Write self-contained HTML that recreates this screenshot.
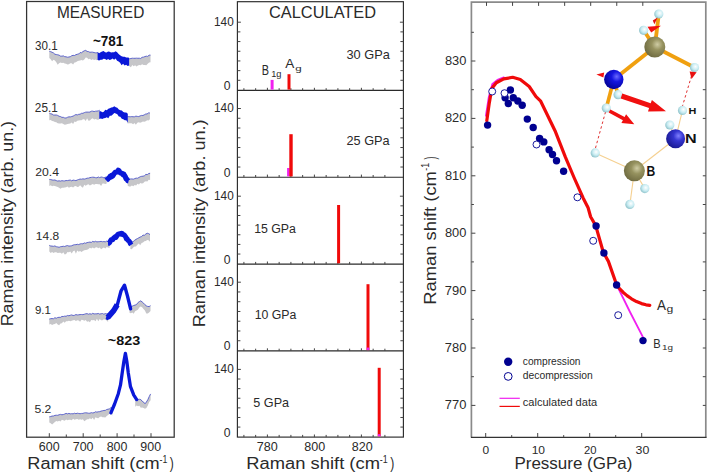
<!DOCTYPE html>
<html><head><meta charset="utf-8"><style>
html,body{margin:0;padding:0;background:#fff;width:708px;height:474px;overflow:hidden}
svg{display:block}
text{font-family:"Liberation Sans", sans-serif}
</style></head><body>
<svg width="708" height="474" viewBox="0 0 708 474">
<rect width="708" height="474" fill="#fff"/>
<rect x="26.6" y="1.5" width="147.6" height="435.7" fill="none" stroke="#333" stroke-width="1.25"/>
<line x1="49.30" y1="437.20" x2="49.30" y2="433.20" stroke="#444" stroke-width="1.0"/>
<line x1="83.20" y1="437.20" x2="83.20" y2="433.20" stroke="#444" stroke-width="1.0"/>
<line x1="117.10" y1="437.20" x2="117.10" y2="433.20" stroke="#444" stroke-width="1.0"/>
<line x1="151.00" y1="437.20" x2="151.00" y2="433.20" stroke="#444" stroke-width="1.0"/>
<line x1="66.30" y1="437.20" x2="66.30" y2="434.50" stroke="#444" stroke-width="1.0"/>
<line x1="100.20" y1="437.20" x2="100.20" y2="434.50" stroke="#444" stroke-width="1.0"/>
<line x1="134.00" y1="437.20" x2="134.00" y2="434.50" stroke="#444" stroke-width="1.0"/>
<text x="38.83" y="450.99" font-size="12.13" fill="#2a2a2a" textLength="20.8" lengthAdjust="spacingAndGlyphs">600</text>
<text x="72.73" y="450.99" font-size="12.13" fill="#2a2a2a" textLength="20.8" lengthAdjust="spacingAndGlyphs">700</text>
<text x="106.72" y="450.99" font-size="12.13" fill="#2a2a2a" textLength="20.71" lengthAdjust="spacingAndGlyphs">800</text>
<text x="140.36" y="450.99" font-size="12.13" fill="#2a2a2a" textLength="20.77" lengthAdjust="spacingAndGlyphs">900</text>
<text x="27.35" y="469.19" font-size="15.77" fill="#2a2a2a" textLength="132.27" lengthAdjust="spacingAndGlyphs">Raman shift (cm</text>
<text x="159.5" y="463.24" font-size="10.82" fill="#2a2a2a" textLength="7.83" lengthAdjust="spacingAndGlyphs">-1</text>
<text x="169.76" y="469.19" font-size="15.77" fill="#2a2a2a" textLength="4.02" lengthAdjust="spacingAndGlyphs">)</text>
<g transform="translate(12.9,325.2) rotate(-90)">
<text x="-1.12" y="-0.21" font-size="16.79" fill="#2a2a2a" textLength="205.35" lengthAdjust="spacingAndGlyphs">Raman intensity (arb. un.)</text>
</g>
<text x="56.88" y="18.29" font-size="16.64" fill="#2a2a2a" textLength="87.41" lengthAdjust="spacingAndGlyphs">MEASURED</text>
<text x="35.01" y="49.59" font-size="13.1" fill="#2a2a2a" textLength="22.6" lengthAdjust="spacingAndGlyphs">30.1</text>
<polygon points="49.3,51.24 50.7,51.65 52.1,52.28 53.5,52.93 54.9,54.25 56.3,54.54 57.7,54.79 59.1,55.15 60.5,56.08 61.9,56.16 63.3,55.87 64.7,56.66 66.1,56.81 67.5,57.23 68.9,56.99 70.3,56.71 71.7,55.74 73.1,55.35 74.5,55.49 75.9,54.66 77.3,54.29 78.7,53.99 80.1,52.56 81.5,52.78 82.9,51.61 84.3,50.79 85.7,50.36 87.1,51.45 88.5,51.59 89.9,52.3 91.3,52.12 92.7,52.2 94.1,52.54 95.5,52.83 96.9,52.82 98.3,52.48 98.3,59.54 96.9,60.24 95.5,59.45 94.1,59.96 92.7,59.2 91.3,60.06 89.9,58.82 88.5,59.36 87.1,57.65 85.7,57.49 84.3,59.4 82.9,60.53 81.5,60.05 80.1,60.48 78.7,60.74 77.3,61.34 75.9,62.34 74.5,62.56 73.1,64.45 71.7,63.15 70.3,63.36 68.9,64.16 67.5,64.49 66.1,63.86 64.7,63.58 63.3,62.76 61.9,63.03 60.5,62.49 59.1,63.14 57.7,64.68 56.3,62.34 54.9,60.55 53.5,59.86 52.1,61.21 50.7,59.3 49.3,58.04" fill="#c6c6c9"/>
<polyline points="49.3,51.24 50.7,51.65 52.1,52.28 53.5,52.93 54.9,54.25 56.3,54.54 57.7,54.79 59.1,55.15 60.5,56.08 61.9,56.16 63.3,55.87 64.7,56.66 66.1,56.81 67.5,57.23 68.9,56.99 70.3,56.71 71.7,55.74 73.1,55.35 74.5,55.49 75.9,54.66 77.3,54.29 78.7,53.99 80.1,52.56 81.5,52.78 82.9,51.61 84.3,50.79 85.7,50.36 87.1,51.45 88.5,51.59 89.9,52.3 91.3,52.12 92.7,52.2 94.1,52.54 95.5,52.83 96.9,52.82 98.3,52.48" fill="none" stroke="#5058c8" stroke-width="0.9"/>
<polygon points="128.1,58.41 129.5,58.81 130.9,58.5 132.3,58.21 133.7,58.3 135.1,58.29 136.5,58.17 137.9,58.28 139.3,58.22 140.7,58.46 142.1,57.31 143.5,57.14 144.9,56.59 146.3,56.18 147.7,56.39 149.1,55.2 150.5,55.12 150.5,62.13 149.1,62.4 147.7,63.74 146.3,65.2 144.9,64.95 143.5,65.08 142.1,64.25 140.7,65.16 139.3,64.94 137.9,65.4 136.5,66.4 135.1,65.16 133.7,66.34 132.3,65.11 130.9,67.2 129.5,66.36 128.1,64.74" fill="#c6c6c9"/>
<polyline points="128.1,58.41 129.5,58.81 130.9,58.5 132.3,58.21 133.7,58.3 135.1,58.29 136.5,58.17 137.9,58.28 139.3,58.22 140.7,58.46 142.1,57.31 143.5,57.14 144.9,56.59 146.3,56.18 147.7,56.39 149.1,55.2 150.5,55.12" fill="none" stroke="#5058c8" stroke-width="0.9"/>
<polygon points="97.6,52.49 99.1,53.15 100.6,52.32 102.1,51.53 103.6,51.1 105.1,52.32 106.6,52.49 108.1,51.38 109.6,51.63 111.1,52.61 112.6,52.3 114.1,52.26 115.6,51.35 117.1,52.36 118.6,53.91 120.1,55.26 121.6,56.15 123.1,56.85 124.6,56.64 126.1,57.39 127.6,57.57 129.1,57.77 129.1,65.45 127.6,65.96 126.1,64.77 124.6,65.45 123.1,63.87 121.6,65.36 120.1,62.84 118.6,61.52 117.1,60.8 115.6,58.41 114.1,59.63 112.6,58.61 111.1,59.56 109.6,59.99 108.1,59.0 106.6,60.03 105.1,59.01 103.6,58.67 102.1,59.67 100.6,59.78 99.1,60.51 97.6,59.9" fill="#0a18d8"/>
<text x="34.86" y="112.19" font-size="12.24" fill="#2a2a2a" textLength="22.86" lengthAdjust="spacingAndGlyphs">25.1</text>
<polygon points="49.3,113.17 50.7,113.74 52.1,114.09 53.5,115.0 54.9,115.05 56.3,115.03 57.7,115.43 59.1,116.27 60.5,116.55 61.9,117.37 63.3,117.3 64.7,117.95 66.1,118.04 67.5,117.28 68.9,116.85 70.3,116.9 71.7,116.51 73.1,116.13 74.5,115.29 75.9,114.57 77.3,114.92 78.7,114.32 80.1,114.21 81.5,113.31 82.9,113.31 84.3,112.64 85.7,112.16 87.1,112.1 88.5,112.1 89.9,112.07 91.3,111.23 92.7,111.14 94.1,111.59 95.5,111.19 96.9,111.12 98.3,110.9 99.7,110.22 99.7,117.99 98.3,119.89 96.9,119.56 95.5,119.12 94.1,119.61 92.7,118.14 91.3,118.89 89.9,120.49 88.5,120.79 87.1,118.18 85.7,120.95 84.3,119.16 82.9,119.27 81.5,120.18 80.1,120.14 78.7,120.4 77.3,120.81 75.9,122.02 74.5,121.45 73.1,124.02 71.7,122.53 70.3,123.62 68.9,123.74 67.5,124.1 66.1,124.38 64.7,124.84 63.3,123.97 61.9,123.29 60.5,123.53 59.1,123.45 57.7,123.16 56.3,122.17 54.9,121.9 53.5,121.31 52.1,120.96 50.7,120.02 49.3,120.34" fill="#c6c6c9"/>
<polyline points="49.3,113.17 50.7,113.74 52.1,114.09 53.5,115.0 54.9,115.05 56.3,115.03 57.7,115.43 59.1,116.27 60.5,116.55 61.9,117.37 63.3,117.3 64.7,117.95 66.1,118.04 67.5,117.28 68.9,116.85 70.3,116.9 71.7,116.51 73.1,116.13 74.5,115.29 75.9,114.57 77.3,114.92 78.7,114.32 80.1,114.21 81.5,113.31 82.9,113.31 84.3,112.64 85.7,112.16 87.1,112.1 88.5,112.1 89.9,112.07 91.3,111.23 92.7,111.14 94.1,111.59 95.5,111.19 96.9,111.12 98.3,110.9 99.7,110.22" fill="none" stroke="#5058c8" stroke-width="0.9"/>
<polygon points="127.5,116.49 128.9,116.73 130.3,116.76 131.7,116.6 133.1,116.78 134.5,116.76 135.9,116.14 137.3,116.42 138.7,116.57 140.1,115.91 141.5,115.42 142.9,115.5 144.3,114.8 145.7,114.03 147.1,113.93 148.5,112.89 149.9,112.97 149.9,119.27 148.5,120.61 147.1,120.13 145.7,121.14 144.3,121.64 142.9,121.62 141.5,122.33 140.1,122.76 138.7,122.35 137.3,122.68 135.9,124.65 134.5,123.05 133.1,124.17 131.7,123.32 130.3,123.18 128.9,123.14 127.5,123.51" fill="#c6c6c9"/>
<polyline points="127.5,116.49 128.9,116.73 130.3,116.76 131.7,116.6 133.1,116.78 134.5,116.76 135.9,116.14 137.3,116.42 138.7,116.57 140.1,115.91 141.5,115.42 142.9,115.5 144.3,114.8 145.7,114.03 147.1,113.93 148.5,112.89 149.9,112.97" fill="none" stroke="#5058c8" stroke-width="0.9"/>
<polygon points="99.3,111.13 100.8,111.31 102.3,112.17 103.8,111.83 105.3,109.66 106.8,110.14 108.3,108.82 109.8,108.26 111.3,107.43 112.8,107.18 114.3,106.24 115.8,107.29 117.3,107.85 118.8,109.48 120.3,110.34 121.8,110.6 123.3,111.99 124.8,112.55 126.3,112.39 127.8,113.72 127.8,122.63 126.3,120.17 124.8,120.17 123.3,119.16 121.8,118.8 120.3,116.73 118.8,116.6 117.3,114.37 115.8,113.39 114.3,112.96 112.8,114.62 111.3,115.66 109.8,115.83 108.3,118.17 106.8,117.2 105.3,117.95 103.8,118.25 102.3,119.01 100.8,118.59 99.3,119.03" fill="#0a18d8"/>
<text x="35.24" y="175.99" font-size="11.38" fill="#2a2a2a" textLength="23.76" lengthAdjust="spacingAndGlyphs">20.4</text>
<polygon points="49.3,179.41 50.7,179.51 52.1,179.97 53.5,180.11 54.9,179.97 56.3,180.62 57.7,181.06 59.1,180.84 60.5,181.08 61.9,180.68 63.3,180.89 64.7,180.92 66.1,180.5 67.5,180.59 68.9,180.28 70.3,180.05 71.7,180.83 73.1,180.08 74.5,180.34 75.9,180.61 77.3,179.97 78.7,179.48 80.1,179.06 81.5,179.21 82.9,178.85 84.3,179.08 85.7,178.73 87.1,178.18 88.5,178.14 89.9,177.62 91.3,177.39 92.7,177.19 94.1,177.29 95.5,177.68 96.9,177.8 98.3,176.99 99.7,177.63 101.1,176.99 102.5,177.26 103.9,177.83 105.3,177.22 106.7,177.14 106.7,183.4 105.3,183.99 103.9,183.52 102.5,183.58 101.1,185.95 99.7,184.13 98.3,184.27 96.9,183.98 95.5,184.11 94.1,184.63 92.7,183.92 91.3,184.78 89.9,185.4 88.5,184.34 87.1,184.63 85.7,185.68 84.3,184.67 82.9,187.76 81.5,186.65 80.1,185.19 78.7,186.86 77.3,187.08 75.9,186.11 74.5,186.2 73.1,187.55 71.7,186.83 70.3,186.92 68.9,187.82 67.5,186.51 66.1,187.22 64.7,187.57 63.3,187.68 61.9,187.79 60.5,188.68 59.1,187.65 57.7,187.12 56.3,186.44 54.9,186.01 53.5,185.77 52.1,186.25 50.7,185.23 49.3,186.0" fill="#c6c6c9"/>
<polyline points="49.3,179.41 50.7,179.51 52.1,179.97 53.5,180.11 54.9,179.97 56.3,180.62 57.7,181.06 59.1,180.84 60.5,181.08 61.9,180.68 63.3,180.89 64.7,180.92 66.1,180.5 67.5,180.59 68.9,180.28 70.3,180.05 71.7,180.83 73.1,180.08 74.5,180.34 75.9,180.61 77.3,179.97 78.7,179.48 80.1,179.06 81.5,179.21 82.9,178.85 84.3,179.08 85.7,178.73 87.1,178.18 88.5,178.14 89.9,177.62 91.3,177.39 92.7,177.19 94.1,177.29 95.5,177.68 96.9,177.8 98.3,176.99 99.7,177.63 101.1,176.99 102.5,177.26 103.9,177.83 105.3,177.22 106.7,177.14" fill="none" stroke="#5058c8" stroke-width="0.9"/>
<polygon points="127.7,179.54 129.1,179.66 130.5,178.98 131.9,178.93 133.3,179.2 134.7,178.61 136.1,178.14 137.5,178.22 138.9,177.47 140.3,176.68 141.7,176.32 143.1,176.19 144.5,175.7 145.9,174.37 147.3,174.6 148.7,173.56 150.1,173.29 150.1,180.07 148.7,179.66 147.3,181.38 145.9,181.15 144.5,181.8 143.1,183.24 141.7,183.6 140.3,182.99 138.9,184.43 137.5,183.7 136.1,185.62 134.7,185.06 133.3,186.26 131.9,185.38 130.5,186.52 129.1,186.59 127.7,185.67" fill="#c6c6c9"/>
<polyline points="127.7,179.54 129.1,179.66 130.5,178.98 131.9,178.93 133.3,179.2 134.7,178.61 136.1,178.14 137.5,178.22 138.9,177.47 140.3,176.68 141.7,176.32 143.1,176.19 144.5,175.7 145.9,174.37 147.3,174.6 148.7,173.56 150.1,173.29" fill="none" stroke="#5058c8" stroke-width="0.9"/>
<polyline points="106.2,180.33999999999997 107.0,179.63 107.8,179.29999999999998 108.6,178.11999999999998 109.4,177.73999999999998 110.2,176.14999999999998 111.0,177.07 111.8,175.41 112.6,176.11999999999998 113.4,174.88 114.2,173.51 115.0,172.46999999999997 115.8,172.02999999999997 116.6,172.10999999999999 117.4,171.54 118.2,170.30999999999997 119.0,170.80999999999997 119.8,172.29999999999998 120.6,172.99999999999997 121.4,173.18999999999997 122.2,173.43999999999997 123.0,174.77999999999997 123.8,174.17999999999998 124.6,175.64999999999998 125.4,176.96999999999997 126.2,178.96999999999997 127.0,179.33999999999997 127.8,180.82 128.6,180.99999999999997" fill="none" stroke="#0a18d8" stroke-width="5.2" stroke-linejoin="round"/>
<text x="35.85" y="239.99" font-size="10.95" fill="#2a2a2a" textLength="23.32" lengthAdjust="spacingAndGlyphs">14.8</text>
<polygon points="49.3,245.36 50.7,245.97 52.1,246.12 53.5,246.3 54.9,245.91 56.3,246.68 57.7,246.91 59.1,247.31 60.5,246.69 61.9,246.55 63.3,246.26 64.7,246.5 66.1,245.9 67.5,245.57 68.9,246.11 70.3,245.96 71.7,245.77 73.1,245.08 74.5,244.7 75.9,244.67 77.3,244.29 78.7,244.59 80.1,243.93 81.5,243.67 82.9,243.83 84.3,242.9 85.7,243.26 87.1,242.59 88.5,242.33 89.9,242.09 91.3,242.41 92.7,241.36 94.1,241.95 95.5,241.28 96.9,241.89 98.3,241.71 99.7,241.6 101.1,241.38 102.5,241.73 103.9,241.55 105.3,241.85 106.7,241.13 108.1,241.69 109.5,241.48 109.5,247.95 108.1,247.62 106.7,247.05 105.3,248.48 103.9,247.42 102.5,248.14 101.1,249.19 99.7,247.42 98.3,248.22 96.9,247.19 95.5,247.59 94.1,248.46 92.7,247.56 91.3,248.45 89.9,247.7 88.5,249.09 87.1,249.72 85.7,249.88 84.3,250.17 82.9,251.01 81.5,251.92 80.1,250.92 78.7,251.76 77.3,250.52 75.9,253.69 74.5,250.4 73.1,251.19 71.7,253.57 70.3,251.5 68.9,252.34 67.5,251.99 66.1,253.98 64.7,254.54 63.3,252.3 61.9,253.66 60.5,252.69 59.1,252.78 57.7,252.91 56.3,252.23 54.9,252.27 53.5,253.03 52.1,252.04 50.7,253.07 49.3,251.4" fill="#c6c6c9"/>
<polyline points="49.3,245.36 50.7,245.97 52.1,246.12 53.5,246.3 54.9,245.91 56.3,246.68 57.7,246.91 59.1,247.31 60.5,246.69 61.9,246.55 63.3,246.26 64.7,246.5 66.1,245.9 67.5,245.57 68.9,246.11 70.3,245.96 71.7,245.77 73.1,245.08 74.5,244.7 75.9,244.67 77.3,244.29 78.7,244.59 80.1,243.93 81.5,243.67 82.9,243.83 84.3,242.9 85.7,243.26 87.1,242.59 88.5,242.33 89.9,242.09 91.3,242.41 92.7,241.36 94.1,241.95 95.5,241.28 96.9,241.89 98.3,241.71 99.7,241.6 101.1,241.38 102.5,241.73 103.9,241.55 105.3,241.85 106.7,241.13 108.1,241.69 109.5,241.48" fill="none" stroke="#5058c8" stroke-width="0.9"/>
<polygon points="130.4,242.57 131.8,242.06 133.2,241.59 134.6,240.33 136.0,239.35 137.4,238.58 138.8,237.81 140.2,237.04 141.6,236.5 143.0,235.11 144.4,235.26 145.8,234.02 147.2,233.23 148.6,233.61 150.0,234.56 150.0,241.85 148.6,240.32 147.2,240.09 145.8,240.92 144.4,241.16 143.0,242.42 141.6,242.96 140.2,245.26 138.8,243.57 137.4,244.77 136.0,246.48 134.6,246.4 133.2,247.53 131.8,249.14 130.4,249.1" fill="#c6c6c9"/>
<polyline points="130.4,242.57 131.8,242.06 133.2,241.59 134.6,240.33 136.0,239.35 137.4,238.58 138.8,237.81 140.2,237.04 141.6,236.5 143.0,235.11 144.4,235.26 145.8,234.02 147.2,233.23 148.6,233.61 150.0,234.56" fill="none" stroke="#5058c8" stroke-width="0.9"/>
<polyline points="108,243.20999999999998 108.8,243.17 109.6,242.54 110.4,240.91 111.2,239.79 112.0,239.69 112.8,239.66 113.6,237.94 114.4,237.51999999999998 115.2,236.69 116.0,237.26 116.8,236.14999999999998 117.6,234.57 118.4,234.03 119.2,234.0 120.0,233.7 120.8,234.07999999999998 121.6,233.17999999999998 122.4,233.53 123.2,234.79 124.0,234.83999999999997 124.8,235.61999999999998 125.6,236.70999999999998 126.4,239.03 127.2,238.79 128.0,240.32999999999998 128.8,240.82 129.6,241.83999999999997 130.4,243.64 131.2,244.79999999999998" fill="none" stroke="#0a18d8" stroke-width="5" stroke-linejoin="round"/>
<text x="34.91" y="313.79" font-size="11.53" fill="#2a2a2a" textLength="15.89" lengthAdjust="spacingAndGlyphs">9.1</text>
<polygon points="49.3,319.08 50.7,318.66 52.1,318.59 53.5,318.74 54.9,317.69 56.3,318.23 57.7,317.47 59.1,317.34 60.5,317.33 61.9,316.45 63.3,316.5 64.7,316.15 66.1,316.27 67.5,315.46 68.9,315.77 70.3,315.28 71.7,314.92 73.1,315.51 74.5,315.27 75.9,314.59 77.3,314.94 78.7,314.79 80.1,314.56 81.5,314.49 82.9,314.64 84.3,314.25 85.7,313.8 87.1,313.65 88.5,314.2 89.9,313.73 91.3,314.18 92.7,313.35 94.1,313.93 95.5,313.81 96.9,313.83 98.3,313.45 99.7,314.09 101.1,313.77 102.5,313.52 103.9,314.23 105.3,313.58 106.7,313.86 108.1,313.77 108.1,322.1 106.7,320.38 105.3,319.78 103.9,319.14 102.5,320.32 101.1,320.29 99.7,319.04 98.3,321.36 96.9,318.86 95.5,321.26 94.1,319.98 92.7,320.2 91.3,319.9 89.9,322.19 88.5,321.17 87.1,321.76 85.7,319.88 84.3,320.77 82.9,320.12 81.5,319.87 80.1,321.85 78.7,320.4 77.3,320.31 75.9,320.89 74.5,320.1 73.1,320.22 71.7,320.65 70.3,321.2 68.9,320.77 67.5,321.36 66.1,321.24 64.7,322.69 63.3,321.6 61.9,323.29 60.5,323.6 59.1,325.19 57.7,324.54 56.3,323.0 54.9,324.01 53.5,324.13 52.1,324.98 50.7,323.94 49.3,324.52" fill="#c6c6c9"/>
<polyline points="49.3,319.08 50.7,318.66 52.1,318.59 53.5,318.74 54.9,317.69 56.3,318.23 57.7,317.47 59.1,317.34 60.5,317.33 61.9,316.45 63.3,316.5 64.7,316.15 66.1,316.27 67.5,315.46 68.9,315.77 70.3,315.28 71.7,314.92 73.1,315.51 74.5,315.27 75.9,314.59 77.3,314.94 78.7,314.79 80.1,314.56 81.5,314.49 82.9,314.64 84.3,314.25 85.7,313.8 87.1,313.65 88.5,314.2 89.9,313.73 91.3,314.18 92.7,313.35 94.1,313.93 95.5,313.81 96.9,313.83 98.3,313.45 99.7,314.09 101.1,313.77 102.5,313.52 103.9,314.23 105.3,313.58 106.7,313.86 108.1,313.77" fill="none" stroke="#5058c8" stroke-width="0.9"/>
<polygon points="129.5,307.27 130.9,306.52 132.3,306.13 133.7,305.49 135.1,305.08 136.5,304.58 137.9,302.65 139.3,301.64 140.7,300.87 142.1,301.91 143.5,303.11 144.9,304.67 146.3,305.84 147.7,306.41 149.1,306.6 150.5,305.67 150.5,310.9 149.1,312.52 147.7,313.45 146.3,313.41 144.9,310.54 143.5,309.04 142.1,307.34 140.7,306.57 139.3,307.52 137.9,309.69 136.5,310.56 135.1,311.33 133.7,313.76 132.3,312.48 130.9,313.32 129.5,312.79" fill="#c6c6c9"/>
<polyline points="129.5,307.27 130.9,306.52 132.3,306.13 133.7,305.49 135.1,305.08 136.5,304.58 137.9,302.65 139.3,301.64 140.7,300.87 142.1,301.91 143.5,303.11 144.9,304.67 146.3,305.84 147.7,306.41 149.1,306.6 150.5,305.67" fill="none" stroke="#5058c8" stroke-width="0.9"/>
<polyline points="107.4,318.3 113.7,310.9 117.4,304.6 121.1,290.8 124.5,285.2 127.5,296.1 130.6,308.8" fill="none" stroke="#0a18d8" stroke-width="3.4" stroke-linejoin="round" stroke-linecap="round"/>
<polyline points="107.6,317.6 113.7,310.6 117.2,304.8" fill="none" stroke="#0a18d8" stroke-width="5.6" stroke-linejoin="round"/>
<text x="34.46" y="413.49" font-size="11.81" fill="#2a2a2a" textLength="16.9" lengthAdjust="spacingAndGlyphs">5.2</text>
<polygon points="49.3,416.86 50.7,416.5 52.1,416.07 53.5,415.97 54.9,415.36 56.3,415.23 57.7,415.31 59.1,414.76 60.5,414.4 61.9,414.75 63.3,414.53 64.7,414.01 66.1,413.39 67.5,413.85 68.9,413.42 70.3,413.85 71.7,413.68 73.1,413.85 74.5,413.23 75.9,413.65 77.3,413.23 78.7,413.46 80.1,413.73 81.5,413.43 82.9,413.42 84.3,412.91 85.7,412.81 87.1,412.95 88.5,413.22 89.9,413.22 91.3,412.66 92.7,412.91 94.1,412.7 95.5,411.75 96.9,412.15 98.3,411.76 99.7,411.64 101.1,411.11 102.5,410.75 103.9,410.45 105.3,410.4 106.7,409.49 108.1,409.21 109.5,408.82 110.9,407.67 112.3,407.76 112.3,415.67 110.9,413.17 109.5,413.84 108.1,415.08 106.7,415.99 105.3,417.57 103.9,417.35 102.5,417.29 101.1,416.41 99.7,416.94 98.3,418.21 96.9,418.08 95.5,417.35 94.1,420.08 92.7,417.86 91.3,419.29 89.9,418.31 88.5,419.26 87.1,419.36 85.7,420.29 84.3,421.26 82.9,419.33 81.5,419.83 80.1,419.25 78.7,419.65 77.3,418.96 75.9,419.15 74.5,419.86 73.1,418.73 71.7,420.29 70.3,419.63 68.9,419.72 67.5,420.23 66.1,419.54 64.7,420.7 63.3,420.25 61.9,419.77 60.5,421.43 59.1,420.75 57.7,421.53 56.3,421.07 54.9,421.88 53.5,423.37 52.1,424.38 50.7,423.25 49.3,422.56" fill="#c6c6c9"/>
<polyline points="49.3,416.86 50.7,416.5 52.1,416.07 53.5,415.97 54.9,415.36 56.3,415.23 57.7,415.31 59.1,414.76 60.5,414.4 61.9,414.75 63.3,414.53 64.7,414.01 66.1,413.39 67.5,413.85 68.9,413.42 70.3,413.85 71.7,413.68 73.1,413.85 74.5,413.23 75.9,413.65 77.3,413.23 78.7,413.46 80.1,413.73 81.5,413.43 82.9,413.42 84.3,412.91 85.7,412.81 87.1,412.95 88.5,413.22 89.9,413.22 91.3,412.66 92.7,412.91 94.1,412.7 95.5,411.75 96.9,412.15 98.3,411.76 99.7,411.64 101.1,411.11 102.5,410.75 103.9,410.45 105.3,410.4 106.7,409.49 108.1,409.21 109.5,408.82 110.9,407.67 112.3,407.76" fill="none" stroke="#5058c8" stroke-width="0.9"/>
<polygon points="135.2,400.21 136.6,399.78 138.0,399.42 139.4,399.23 140.8,399.55 142.2,401.25 143.6,402.11 145.0,403.77 146.4,402.04 147.8,399.75 149.2,396.66 150.6,393.93 150.6,400.31 149.2,401.89 147.8,405.39 146.4,407.99 145.0,408.75 143.6,408.09 142.2,407.53 140.8,407.87 139.4,405.81 138.0,406.35 136.6,405.54 135.2,406.69" fill="#c6c6c9"/>
<polyline points="135.2,400.21 136.6,399.78 138.0,399.42 139.4,399.23 140.8,399.55 142.2,401.25 143.6,402.11 145.0,403.77 146.4,402.04 147.8,399.75 149.2,396.66 150.6,393.93" fill="none" stroke="#5058c8" stroke-width="0.9"/>
<polyline points="110.9,412.9 114.6,404 118.3,393.7 120.5,384.9 122.4,371.6 123.9,361.2 125.4,353.3 126.8,361.2 128.3,373 130.4,386.3 133.8,395.2 136.7,399.6" fill="none" stroke="#0a18d8" stroke-width="3.3" stroke-linejoin="round" stroke-linecap="round"/>
<text x="92.91" y="45.59" font-size="15.19" font-weight="bold" fill="#111" textLength="30.41" lengthAdjust="spacingAndGlyphs">~781</text>
<text x="107.78" y="345.39" font-size="13.68" font-weight="bold" fill="#111" textLength="32.38" lengthAdjust="spacingAndGlyphs">~823</text>
<rect x="237.4" y="1.7" width="165.99999999999997" height="435.40000000000003" fill="none" stroke="#2a2a2a" stroke-width="1.15"/>
<line x1="237.40" y1="90.40" x2="403.40" y2="90.40" stroke="#2a2a2a" stroke-width="1.15"/>
<line x1="237.40" y1="177.20" x2="403.40" y2="177.20" stroke="#2a2a2a" stroke-width="1.15"/>
<line x1="237.40" y1="264.10" x2="403.40" y2="264.10" stroke="#2a2a2a" stroke-width="1.15"/>
<line x1="237.40" y1="350.90" x2="403.40" y2="350.90" stroke="#2a2a2a" stroke-width="1.15"/>
<line x1="237.40" y1="31.89" x2="240.40" y2="31.89" stroke="#444" stroke-width="1.0"/>
<line x1="403.40" y1="31.89" x2="400.40" y2="31.89" stroke="#444" stroke-width="1.0"/>
<line x1="237.40" y1="41.57" x2="240.40" y2="41.57" stroke="#444" stroke-width="1.0"/>
<line x1="403.40" y1="41.57" x2="400.40" y2="41.57" stroke="#444" stroke-width="1.0"/>
<line x1="237.40" y1="51.26" x2="240.40" y2="51.26" stroke="#444" stroke-width="1.0"/>
<line x1="403.40" y1="51.26" x2="400.40" y2="51.26" stroke="#444" stroke-width="1.0"/>
<line x1="237.40" y1="60.94" x2="240.40" y2="60.94" stroke="#444" stroke-width="1.0"/>
<line x1="403.40" y1="60.94" x2="400.40" y2="60.94" stroke="#444" stroke-width="1.0"/>
<line x1="237.40" y1="70.63" x2="240.40" y2="70.63" stroke="#444" stroke-width="1.0"/>
<line x1="403.40" y1="70.63" x2="400.40" y2="70.63" stroke="#444" stroke-width="1.0"/>
<line x1="237.40" y1="80.31" x2="240.40" y2="80.31" stroke="#444" stroke-width="1.0"/>
<line x1="403.40" y1="80.31" x2="400.40" y2="80.31" stroke="#444" stroke-width="1.0"/>
<line x1="237.40" y1="22.20" x2="240.90" y2="22.20" stroke="#444" stroke-width="1.0"/>
<line x1="403.40" y1="22.20" x2="399.90" y2="22.20" stroke="#444" stroke-width="1.0"/>
<line x1="243.90" y1="90.40" x2="243.90" y2="88.20" stroke="#444" stroke-width="1.0"/>
<line x1="255.65" y1="90.40" x2="255.65" y2="88.20" stroke="#444" stroke-width="1.0"/>
<line x1="267.40" y1="90.40" x2="267.40" y2="87.80" stroke="#444" stroke-width="1.0"/>
<line x1="279.15" y1="90.40" x2="279.15" y2="88.20" stroke="#444" stroke-width="1.0"/>
<line x1="290.90" y1="90.40" x2="290.90" y2="88.20" stroke="#444" stroke-width="1.0"/>
<line x1="302.65" y1="90.40" x2="302.65" y2="88.20" stroke="#444" stroke-width="1.0"/>
<line x1="314.40" y1="90.40" x2="314.40" y2="87.80" stroke="#444" stroke-width="1.0"/>
<line x1="326.15" y1="90.40" x2="326.15" y2="88.20" stroke="#444" stroke-width="1.0"/>
<line x1="337.90" y1="90.40" x2="337.90" y2="88.20" stroke="#444" stroke-width="1.0"/>
<line x1="349.65" y1="90.40" x2="349.65" y2="88.20" stroke="#444" stroke-width="1.0"/>
<line x1="361.40" y1="90.40" x2="361.40" y2="87.80" stroke="#444" stroke-width="1.0"/>
<line x1="373.15" y1="90.40" x2="373.15" y2="88.20" stroke="#444" stroke-width="1.0"/>
<line x1="384.90" y1="90.40" x2="384.90" y2="88.20" stroke="#444" stroke-width="1.0"/>
<text x="214.07" y="26.09" font-size="12.86" fill="#2a2a2a" textLength="19.64" lengthAdjust="spacingAndGlyphs">140</text>
<text x="223.76" y="89.89" font-size="12.39" fill="#2a2a2a" textLength="6.76" lengthAdjust="spacingAndGlyphs">0</text>
<line x1="237.40" y1="118.26" x2="240.40" y2="118.26" stroke="#444" stroke-width="1.0"/>
<line x1="403.40" y1="118.26" x2="400.40" y2="118.26" stroke="#444" stroke-width="1.0"/>
<line x1="237.40" y1="128.01" x2="240.40" y2="128.01" stroke="#444" stroke-width="1.0"/>
<line x1="403.40" y1="128.01" x2="400.40" y2="128.01" stroke="#444" stroke-width="1.0"/>
<line x1="237.40" y1="137.77" x2="240.40" y2="137.77" stroke="#444" stroke-width="1.0"/>
<line x1="403.40" y1="137.77" x2="400.40" y2="137.77" stroke="#444" stroke-width="1.0"/>
<line x1="237.40" y1="147.53" x2="240.40" y2="147.53" stroke="#444" stroke-width="1.0"/>
<line x1="403.40" y1="147.53" x2="400.40" y2="147.53" stroke="#444" stroke-width="1.0"/>
<line x1="237.40" y1="157.29" x2="240.40" y2="157.29" stroke="#444" stroke-width="1.0"/>
<line x1="403.40" y1="157.29" x2="400.40" y2="157.29" stroke="#444" stroke-width="1.0"/>
<line x1="237.40" y1="167.04" x2="240.40" y2="167.04" stroke="#444" stroke-width="1.0"/>
<line x1="403.40" y1="167.04" x2="400.40" y2="167.04" stroke="#444" stroke-width="1.0"/>
<line x1="237.40" y1="108.50" x2="240.90" y2="108.50" stroke="#444" stroke-width="1.0"/>
<line x1="403.40" y1="108.50" x2="399.90" y2="108.50" stroke="#444" stroke-width="1.0"/>
<line x1="243.90" y1="177.20" x2="243.90" y2="175.00" stroke="#444" stroke-width="1.0"/>
<line x1="255.65" y1="177.20" x2="255.65" y2="175.00" stroke="#444" stroke-width="1.0"/>
<line x1="267.40" y1="177.20" x2="267.40" y2="174.60" stroke="#444" stroke-width="1.0"/>
<line x1="279.15" y1="177.20" x2="279.15" y2="175.00" stroke="#444" stroke-width="1.0"/>
<line x1="290.90" y1="177.20" x2="290.90" y2="175.00" stroke="#444" stroke-width="1.0"/>
<line x1="302.65" y1="177.20" x2="302.65" y2="175.00" stroke="#444" stroke-width="1.0"/>
<line x1="314.40" y1="177.20" x2="314.40" y2="174.60" stroke="#444" stroke-width="1.0"/>
<line x1="326.15" y1="177.20" x2="326.15" y2="175.00" stroke="#444" stroke-width="1.0"/>
<line x1="337.90" y1="177.20" x2="337.90" y2="175.00" stroke="#444" stroke-width="1.0"/>
<line x1="349.65" y1="177.20" x2="349.65" y2="175.00" stroke="#444" stroke-width="1.0"/>
<line x1="361.40" y1="177.20" x2="361.40" y2="174.60" stroke="#444" stroke-width="1.0"/>
<line x1="373.15" y1="177.20" x2="373.15" y2="175.00" stroke="#444" stroke-width="1.0"/>
<line x1="384.90" y1="177.20" x2="384.90" y2="175.00" stroke="#444" stroke-width="1.0"/>
<text x="214.07" y="112.39" font-size="12.86" fill="#2a2a2a" textLength="19.64" lengthAdjust="spacingAndGlyphs">140</text>
<text x="223.76" y="176.69" font-size="12.39" fill="#2a2a2a" textLength="6.76" lengthAdjust="spacingAndGlyphs">0</text>
<line x1="237.40" y1="205.84" x2="240.40" y2="205.84" stroke="#444" stroke-width="1.0"/>
<line x1="403.40" y1="205.84" x2="400.40" y2="205.84" stroke="#444" stroke-width="1.0"/>
<line x1="237.40" y1="215.49" x2="240.40" y2="215.49" stroke="#444" stroke-width="1.0"/>
<line x1="403.40" y1="215.49" x2="400.40" y2="215.49" stroke="#444" stroke-width="1.0"/>
<line x1="237.40" y1="225.13" x2="240.40" y2="225.13" stroke="#444" stroke-width="1.0"/>
<line x1="403.40" y1="225.13" x2="400.40" y2="225.13" stroke="#444" stroke-width="1.0"/>
<line x1="237.40" y1="234.77" x2="240.40" y2="234.77" stroke="#444" stroke-width="1.0"/>
<line x1="403.40" y1="234.77" x2="400.40" y2="234.77" stroke="#444" stroke-width="1.0"/>
<line x1="237.40" y1="244.41" x2="240.40" y2="244.41" stroke="#444" stroke-width="1.0"/>
<line x1="403.40" y1="244.41" x2="400.40" y2="244.41" stroke="#444" stroke-width="1.0"/>
<line x1="237.40" y1="254.06" x2="240.40" y2="254.06" stroke="#444" stroke-width="1.0"/>
<line x1="403.40" y1="254.06" x2="400.40" y2="254.06" stroke="#444" stroke-width="1.0"/>
<line x1="237.40" y1="196.20" x2="240.90" y2="196.20" stroke="#444" stroke-width="1.0"/>
<line x1="403.40" y1="196.20" x2="399.90" y2="196.20" stroke="#444" stroke-width="1.0"/>
<line x1="243.90" y1="264.10" x2="243.90" y2="261.90" stroke="#444" stroke-width="1.0"/>
<line x1="255.65" y1="264.10" x2="255.65" y2="261.90" stroke="#444" stroke-width="1.0"/>
<line x1="267.40" y1="264.10" x2="267.40" y2="261.50" stroke="#444" stroke-width="1.0"/>
<line x1="279.15" y1="264.10" x2="279.15" y2="261.90" stroke="#444" stroke-width="1.0"/>
<line x1="290.90" y1="264.10" x2="290.90" y2="261.90" stroke="#444" stroke-width="1.0"/>
<line x1="302.65" y1="264.10" x2="302.65" y2="261.90" stroke="#444" stroke-width="1.0"/>
<line x1="314.40" y1="264.10" x2="314.40" y2="261.50" stroke="#444" stroke-width="1.0"/>
<line x1="326.15" y1="264.10" x2="326.15" y2="261.90" stroke="#444" stroke-width="1.0"/>
<line x1="337.90" y1="264.10" x2="337.90" y2="261.90" stroke="#444" stroke-width="1.0"/>
<line x1="349.65" y1="264.10" x2="349.65" y2="261.90" stroke="#444" stroke-width="1.0"/>
<line x1="361.40" y1="264.10" x2="361.40" y2="261.50" stroke="#444" stroke-width="1.0"/>
<line x1="373.15" y1="264.10" x2="373.15" y2="261.90" stroke="#444" stroke-width="1.0"/>
<line x1="384.90" y1="264.10" x2="384.90" y2="261.90" stroke="#444" stroke-width="1.0"/>
<text x="214.07" y="200.09" font-size="12.86" fill="#2a2a2a" textLength="19.64" lengthAdjust="spacingAndGlyphs">140</text>
<text x="223.76" y="263.59" font-size="12.39" fill="#2a2a2a" textLength="6.76" lengthAdjust="spacingAndGlyphs">0</text>
<line x1="237.40" y1="291.96" x2="240.40" y2="291.96" stroke="#444" stroke-width="1.0"/>
<line x1="403.40" y1="291.96" x2="400.40" y2="291.96" stroke="#444" stroke-width="1.0"/>
<line x1="237.40" y1="301.71" x2="240.40" y2="301.71" stroke="#444" stroke-width="1.0"/>
<line x1="403.40" y1="301.71" x2="400.40" y2="301.71" stroke="#444" stroke-width="1.0"/>
<line x1="237.40" y1="311.47" x2="240.40" y2="311.47" stroke="#444" stroke-width="1.0"/>
<line x1="403.40" y1="311.47" x2="400.40" y2="311.47" stroke="#444" stroke-width="1.0"/>
<line x1="237.40" y1="321.23" x2="240.40" y2="321.23" stroke="#444" stroke-width="1.0"/>
<line x1="403.40" y1="321.23" x2="400.40" y2="321.23" stroke="#444" stroke-width="1.0"/>
<line x1="237.40" y1="330.99" x2="240.40" y2="330.99" stroke="#444" stroke-width="1.0"/>
<line x1="403.40" y1="330.99" x2="400.40" y2="330.99" stroke="#444" stroke-width="1.0"/>
<line x1="237.40" y1="340.74" x2="240.40" y2="340.74" stroke="#444" stroke-width="1.0"/>
<line x1="403.40" y1="340.74" x2="400.40" y2="340.74" stroke="#444" stroke-width="1.0"/>
<line x1="237.40" y1="282.20" x2="240.90" y2="282.20" stroke="#444" stroke-width="1.0"/>
<line x1="403.40" y1="282.20" x2="399.90" y2="282.20" stroke="#444" stroke-width="1.0"/>
<line x1="243.90" y1="350.90" x2="243.90" y2="348.70" stroke="#444" stroke-width="1.0"/>
<line x1="255.65" y1="350.90" x2="255.65" y2="348.70" stroke="#444" stroke-width="1.0"/>
<line x1="267.40" y1="350.90" x2="267.40" y2="348.30" stroke="#444" stroke-width="1.0"/>
<line x1="279.15" y1="350.90" x2="279.15" y2="348.70" stroke="#444" stroke-width="1.0"/>
<line x1="290.90" y1="350.90" x2="290.90" y2="348.70" stroke="#444" stroke-width="1.0"/>
<line x1="302.65" y1="350.90" x2="302.65" y2="348.70" stroke="#444" stroke-width="1.0"/>
<line x1="314.40" y1="350.90" x2="314.40" y2="348.30" stroke="#444" stroke-width="1.0"/>
<line x1="326.15" y1="350.90" x2="326.15" y2="348.70" stroke="#444" stroke-width="1.0"/>
<line x1="337.90" y1="350.90" x2="337.90" y2="348.70" stroke="#444" stroke-width="1.0"/>
<line x1="349.65" y1="350.90" x2="349.65" y2="348.70" stroke="#444" stroke-width="1.0"/>
<line x1="361.40" y1="350.90" x2="361.40" y2="348.30" stroke="#444" stroke-width="1.0"/>
<line x1="373.15" y1="350.90" x2="373.15" y2="348.70" stroke="#444" stroke-width="1.0"/>
<line x1="384.90" y1="350.90" x2="384.90" y2="348.70" stroke="#444" stroke-width="1.0"/>
<text x="214.07" y="286.09" font-size="12.86" fill="#2a2a2a" textLength="19.64" lengthAdjust="spacingAndGlyphs">140</text>
<text x="223.76" y="350.39" font-size="12.39" fill="#2a2a2a" textLength="6.76" lengthAdjust="spacingAndGlyphs">0</text>
<line x1="237.40" y1="379.01" x2="240.40" y2="379.01" stroke="#444" stroke-width="1.0"/>
<line x1="403.40" y1="379.01" x2="400.40" y2="379.01" stroke="#444" stroke-width="1.0"/>
<line x1="237.40" y1="388.63" x2="240.40" y2="388.63" stroke="#444" stroke-width="1.0"/>
<line x1="403.40" y1="388.63" x2="400.40" y2="388.63" stroke="#444" stroke-width="1.0"/>
<line x1="237.40" y1="398.24" x2="240.40" y2="398.24" stroke="#444" stroke-width="1.0"/>
<line x1="403.40" y1="398.24" x2="400.40" y2="398.24" stroke="#444" stroke-width="1.0"/>
<line x1="237.40" y1="407.86" x2="240.40" y2="407.86" stroke="#444" stroke-width="1.0"/>
<line x1="403.40" y1="407.86" x2="400.40" y2="407.86" stroke="#444" stroke-width="1.0"/>
<line x1="237.40" y1="417.47" x2="240.40" y2="417.47" stroke="#444" stroke-width="1.0"/>
<line x1="403.40" y1="417.47" x2="400.40" y2="417.47" stroke="#444" stroke-width="1.0"/>
<line x1="237.40" y1="427.09" x2="240.40" y2="427.09" stroke="#444" stroke-width="1.0"/>
<line x1="403.40" y1="427.09" x2="400.40" y2="427.09" stroke="#444" stroke-width="1.0"/>
<line x1="237.40" y1="369.40" x2="240.90" y2="369.40" stroke="#444" stroke-width="1.0"/>
<line x1="403.40" y1="369.40" x2="399.90" y2="369.40" stroke="#444" stroke-width="1.0"/>
<line x1="243.90" y1="437.10" x2="243.90" y2="434.90" stroke="#444" stroke-width="1.0"/>
<line x1="255.65" y1="437.10" x2="255.65" y2="434.90" stroke="#444" stroke-width="1.0"/>
<line x1="267.40" y1="437.10" x2="267.40" y2="434.50" stroke="#444" stroke-width="1.0"/>
<line x1="279.15" y1="437.10" x2="279.15" y2="434.90" stroke="#444" stroke-width="1.0"/>
<line x1="290.90" y1="437.10" x2="290.90" y2="434.90" stroke="#444" stroke-width="1.0"/>
<line x1="302.65" y1="437.10" x2="302.65" y2="434.90" stroke="#444" stroke-width="1.0"/>
<line x1="314.40" y1="437.10" x2="314.40" y2="434.50" stroke="#444" stroke-width="1.0"/>
<line x1="326.15" y1="437.10" x2="326.15" y2="434.90" stroke="#444" stroke-width="1.0"/>
<line x1="337.90" y1="437.10" x2="337.90" y2="434.90" stroke="#444" stroke-width="1.0"/>
<line x1="349.65" y1="437.10" x2="349.65" y2="434.90" stroke="#444" stroke-width="1.0"/>
<line x1="361.40" y1="437.10" x2="361.40" y2="434.50" stroke="#444" stroke-width="1.0"/>
<line x1="373.15" y1="437.10" x2="373.15" y2="434.90" stroke="#444" stroke-width="1.0"/>
<line x1="384.90" y1="437.10" x2="384.90" y2="434.90" stroke="#444" stroke-width="1.0"/>
<text x="214.07" y="373.29" font-size="12.86" fill="#2a2a2a" textLength="19.64" lengthAdjust="spacingAndGlyphs">140</text>
<text x="223.76" y="436.59" font-size="12.39" fill="#2a2a2a" textLength="6.76" lengthAdjust="spacingAndGlyphs">0</text>
<text x="269.03" y="18.49" font-size="17.08" fill="#2a2a2a" textLength="107.08" lengthAdjust="spacingAndGlyphs">CALCULATED</text>
<text x="346.47" y="58.59" font-size="13.39" fill="#2a2a2a" textLength="43.36" lengthAdjust="spacingAndGlyphs">30 GPa</text>
<text x="346.51" y="144.69" font-size="13.39" fill="#2a2a2a" textLength="43.12" lengthAdjust="spacingAndGlyphs">25 GPa</text>
<text x="254.13" y="232.79" font-size="13.53" fill="#2a2a2a" textLength="41.81" lengthAdjust="spacingAndGlyphs">15 GPa</text>
<text x="254.63" y="319.49" font-size="12.82" fill="#2a2a2a" textLength="41.71" lengthAdjust="spacingAndGlyphs">10 GPa</text>
<text x="253.35" y="406.69" font-size="12.96" fill="#2a2a2a" textLength="35.77" lengthAdjust="spacingAndGlyphs">5 GPa</text>
<text x="256.72" y="450.99" font-size="11.96" fill="#2a2a2a" textLength="21.01" lengthAdjust="spacingAndGlyphs">780</text>
<text x="304.22" y="450.99" font-size="11.96" fill="#2a2a2a" textLength="20.92" lengthAdjust="spacingAndGlyphs">800</text>
<text x="351.82" y="450.99" font-size="11.96" fill="#2a2a2a" textLength="20.92" lengthAdjust="spacingAndGlyphs">820</text>
<text x="246.34" y="468.59" font-size="15.77" fill="#2a2a2a" textLength="133.6" lengthAdjust="spacingAndGlyphs">Raman shift (cm</text>
<text x="379.81" y="462.64" font-size="10.82" fill="#2a2a2a" textLength="7.91" lengthAdjust="spacingAndGlyphs">-1</text>
<text x="390.17" y="468.59" font-size="15.77" fill="#2a2a2a" textLength="4.07" lengthAdjust="spacingAndGlyphs">)</text>
<g transform="translate(205.0,326.2) rotate(-90)">
<text x="-1.14" y="-0.21" font-size="17.22" fill="#2a2a2a" textLength="207.88" lengthAdjust="spacingAndGlyphs">Raman intensity (arb. un.)</text>
</g>
<line x1="272.1" y1="79.9" x2="272.1" y2="89.6" stroke="#f020f0" stroke-width="3.0" stroke-linecap="butt"/>
<line x1="289.0" y1="74.2" x2="289.0" y2="89.6" stroke="#f00a0a" stroke-width="3.0" stroke-linecap="butt"/>
<line x1="288.4" y1="168.0" x2="288.4" y2="176.4" stroke="#f020f0" stroke-width="2.6" stroke-linecap="butt"/>
<line x1="291.0" y1="134.2" x2="291.0" y2="176.4" stroke="#f00a0a" stroke-width="3.4" stroke-linecap="butt"/>
<line x1="338.6" y1="205.0" x2="338.6" y2="263.3" stroke="#f00a0a" stroke-width="3.0" stroke-linecap="butt"/>
<line x1="368.0" y1="284.2" x2="368.0" y2="350.1" stroke="#f00a0a" stroke-width="3.0" stroke-linecap="butt"/>
<line x1="368.0" y1="347.6" x2="368.0" y2="350.1" stroke="#f020f0" stroke-width="2.6" stroke-linecap="butt"/>
<line x1="379.2" y1="367.8" x2="379.2" y2="436.3" stroke="#f00a0a" stroke-width="3.0" stroke-linecap="butt"/>
<line x1="379.2" y1="434.2" x2="379.2" y2="436.3" stroke="#f020f0" stroke-width="2.6" stroke-linecap="butt"/>
<text x="261.85" y="74.59" font-size="14.17" fill="#2a2a2a" textLength="7.26" lengthAdjust="spacingAndGlyphs">B</text>
<text x="271.16" y="77.09" font-size="8.35" fill="#2a2a2a" textLength="10.29" lengthAdjust="spacingAndGlyphs">1g</text>
<text x="285.32" y="68.29" font-size="12.71" fill="#2a2a2a" textLength="9.06" lengthAdjust="spacingAndGlyphs">A</text>
<text x="295.36" y="70.79" font-size="8.04" fill="#2a2a2a" textLength="6.43" lengthAdjust="spacingAndGlyphs">g</text>
<path d="M471.4,437.3 L471.4,2.1 L705.8,2.1 L705.8,437.3" fill="none" stroke="#8a8a8a" stroke-width="1.7"/>
<line x1="470.90" y1="437.30" x2="706.60" y2="437.30" stroke="#333" stroke-width="1.25"/>
<line x1="471.40" y1="405.40" x2="475.40" y2="405.40" stroke="#444" stroke-width="1.0"/>
<line x1="705.80" y1="405.40" x2="702.80" y2="405.40" stroke="#444" stroke-width="1.0"/>
<line x1="471.40" y1="376.70" x2="473.90" y2="376.70" stroke="#444" stroke-width="1.0"/>
<line x1="705.80" y1="376.70" x2="702.80" y2="376.70" stroke="#444" stroke-width="1.0"/>
<line x1="471.40" y1="348.00" x2="475.40" y2="348.00" stroke="#444" stroke-width="1.0"/>
<line x1="705.80" y1="348.00" x2="702.80" y2="348.00" stroke="#444" stroke-width="1.0"/>
<line x1="471.40" y1="319.30" x2="473.90" y2="319.30" stroke="#444" stroke-width="1.0"/>
<line x1="705.80" y1="319.30" x2="702.80" y2="319.30" stroke="#444" stroke-width="1.0"/>
<line x1="471.40" y1="290.60" x2="475.40" y2="290.60" stroke="#444" stroke-width="1.0"/>
<line x1="705.80" y1="290.60" x2="702.80" y2="290.60" stroke="#444" stroke-width="1.0"/>
<line x1="471.40" y1="261.90" x2="473.90" y2="261.90" stroke="#444" stroke-width="1.0"/>
<line x1="705.80" y1="261.90" x2="702.80" y2="261.90" stroke="#444" stroke-width="1.0"/>
<line x1="471.40" y1="233.20" x2="475.40" y2="233.20" stroke="#444" stroke-width="1.0"/>
<line x1="705.80" y1="233.20" x2="702.80" y2="233.20" stroke="#444" stroke-width="1.0"/>
<line x1="471.40" y1="204.50" x2="473.90" y2="204.50" stroke="#444" stroke-width="1.0"/>
<line x1="705.80" y1="204.50" x2="702.80" y2="204.50" stroke="#444" stroke-width="1.0"/>
<line x1="471.40" y1="175.80" x2="475.40" y2="175.80" stroke="#444" stroke-width="1.0"/>
<line x1="705.80" y1="175.80" x2="702.80" y2="175.80" stroke="#444" stroke-width="1.0"/>
<line x1="471.40" y1="147.10" x2="473.90" y2="147.10" stroke="#444" stroke-width="1.0"/>
<line x1="705.80" y1="147.10" x2="702.80" y2="147.10" stroke="#444" stroke-width="1.0"/>
<line x1="471.40" y1="118.40" x2="475.40" y2="118.40" stroke="#444" stroke-width="1.0"/>
<line x1="705.80" y1="118.40" x2="702.80" y2="118.40" stroke="#444" stroke-width="1.0"/>
<line x1="471.40" y1="89.70" x2="473.90" y2="89.70" stroke="#444" stroke-width="1.0"/>
<line x1="705.80" y1="89.70" x2="702.80" y2="89.70" stroke="#444" stroke-width="1.0"/>
<line x1="471.40" y1="61.00" x2="475.40" y2="61.00" stroke="#444" stroke-width="1.0"/>
<line x1="471.40" y1="32.30" x2="473.90" y2="32.30" stroke="#444" stroke-width="1.0"/>
<line x1="485.70" y1="437.30" x2="485.70" y2="433.00" stroke="#444" stroke-width="1.0"/>
<line x1="486.50" y1="2.10" x2="486.50" y2="5.90" stroke="#444" stroke-width="1.0"/>
<line x1="511.70" y1="437.30" x2="511.70" y2="435.10" stroke="#444" stroke-width="1.0"/>
<line x1="512.55" y1="2.10" x2="512.55" y2="5.90" stroke="#444" stroke-width="1.0"/>
<line x1="537.70" y1="437.30" x2="537.70" y2="433.00" stroke="#444" stroke-width="1.0"/>
<line x1="538.60" y1="2.10" x2="538.60" y2="5.90" stroke="#444" stroke-width="1.0"/>
<line x1="563.70" y1="437.30" x2="563.70" y2="435.10" stroke="#444" stroke-width="1.0"/>
<line x1="564.65" y1="2.10" x2="564.65" y2="5.90" stroke="#444" stroke-width="1.0"/>
<line x1="589.70" y1="437.30" x2="589.70" y2="433.00" stroke="#444" stroke-width="1.0"/>
<line x1="590.70" y1="2.10" x2="590.70" y2="5.90" stroke="#444" stroke-width="1.0"/>
<line x1="615.70" y1="437.30" x2="615.70" y2="435.10" stroke="#444" stroke-width="1.0"/>
<line x1="616.75" y1="2.10" x2="616.75" y2="5.90" stroke="#444" stroke-width="1.0"/>
<line x1="641.70" y1="437.30" x2="641.70" y2="433.00" stroke="#444" stroke-width="1.0"/>
<line x1="642.80" y1="2.10" x2="642.80" y2="5.90" stroke="#444" stroke-width="1.0"/>
<text x="444.8" y="409.39" font-size="12.53" fill="#2a2a2a" textLength="21.54" lengthAdjust="spacingAndGlyphs">770</text>
<text x="444.8" y="351.99" font-size="12.53" fill="#2a2a2a" textLength="21.54" lengthAdjust="spacingAndGlyphs">780</text>
<text x="444.8" y="294.59" font-size="12.53" fill="#2a2a2a" textLength="21.54" lengthAdjust="spacingAndGlyphs">790</text>
<text x="444.9" y="237.19" font-size="12.53" fill="#2a2a2a" textLength="21.44" lengthAdjust="spacingAndGlyphs">800</text>
<text x="444.9" y="179.79" font-size="12.53" fill="#2a2a2a" textLength="21.44" lengthAdjust="spacingAndGlyphs">810</text>
<text x="444.9" y="122.39" font-size="12.53" fill="#2a2a2a" textLength="21.44" lengthAdjust="spacingAndGlyphs">820</text>
<text x="444.9" y="64.99" font-size="12.53" fill="#2a2a2a" textLength="21.44" lengthAdjust="spacingAndGlyphs">830</text>
<text x="482.47" y="453.99" font-size="11.67" fill="#2a2a2a" textLength="6.64" lengthAdjust="spacingAndGlyphs">0</text>
<text x="531.65" y="453.99" font-size="11.67" fill="#2a2a2a" textLength="13.38" lengthAdjust="spacingAndGlyphs">10</text>
<text x="584.09" y="453.99" font-size="11.67" fill="#2a2a2a" textLength="12.51" lengthAdjust="spacingAndGlyphs">20</text>
<text x="635.59" y="453.99" font-size="11.67" fill="#2a2a2a" textLength="13.76" lengthAdjust="spacingAndGlyphs">30</text>
<text x="514.45" y="469.19" font-size="15.77" fill="#2a2a2a" textLength="117.94" lengthAdjust="spacingAndGlyphs">Pressure (GPa)</text>
<g transform="translate(436.2,303.7) rotate(-90)">
<text x="-1.17" y="-0.21" font-size="16.64" fill="#2a2a2a" textLength="133.8" lengthAdjust="spacingAndGlyphs">Raman shift (cm</text>
<text x="133.01" y="-7.56" font-size="10.97" fill="#2a2a2a" textLength="7.72" lengthAdjust="spacingAndGlyphs">-1</text>
<text x="144.08" y="-0.21" font-size="16.64" fill="#2a2a2a" textLength="2.89" lengthAdjust="spacingAndGlyphs">)</text>
</g>
<path d="M486.1,115.6 L489,97 L492.5,84 L497.5,80.1 L503.8,77.6" fill="none" stroke="#f020f0" stroke-width="2.2" stroke-linejoin="round" stroke-linecap="round"/>
<path d="M616.7,285 L630,312 L645.4,341.8" fill="none" stroke="#f020f0" stroke-width="1.8" stroke-linejoin="round"/>
<path d="M486.8,120.6 L489.3,102.9 L491.8,88.4 L496.3,82.7 L503.8,78.9 L512.7,77.3 L520.3,79.5 L529.2,86.5 L536,96.6 L540.7,101.2 L555.5,131.8 L565.3,156.9 L573.8,177 L583,197.7 L588.1,207.8 L590.6,216.7 L595.7,225.6 L603.3,252.2 L608.4,261.4 L616.7,285 L619.5,288.5 L623,292.2 L627,295.6 L631.5,298.8 L636.5,301.6 L641.5,303.6 L646,304.8 L649.8,305.3" fill="none" stroke="#f00a0a" stroke-width="3.2" stroke-linejoin="round" stroke-linecap="round"/>
<circle cx="487.6" cy="125.1" r="3.7" fill="#000090"/>
<circle cx="510.4" cy="90" r="3.7" fill="#000090"/>
<circle cx="505.1" cy="97.8" r="3.7" fill="#000090"/>
<circle cx="508.3" cy="103.5" r="3.7" fill="#000090"/>
<circle cx="513.3" cy="97.8" r="3.7" fill="#000090"/>
<circle cx="517.8" cy="101" r="3.7" fill="#000090"/>
<circle cx="522.2" cy="105.2" r="3.7" fill="#000090"/>
<circle cx="527.3" cy="119.1" r="3.7" fill="#000090"/>
<circle cx="533.2" cy="127.5" r="3.7" fill="#000090"/>
<circle cx="539.6" cy="138.5" r="3.7" fill="#000090"/>
<circle cx="543.8" cy="141.9" r="3.7" fill="#000090"/>
<circle cx="549.1" cy="149.7" r="3.7" fill="#000090"/>
<circle cx="552.5" cy="154.5" r="3.7" fill="#000090"/>
<circle cx="556.5" cy="160.7" r="3.7" fill="#000090"/>
<circle cx="563.6" cy="171.3" r="3.7" fill="#000090"/>
<circle cx="596.1" cy="226" r="3.7" fill="#000090"/>
<circle cx="603.9" cy="253" r="3.7" fill="#000090"/>
<circle cx="616.6" cy="285" r="3.7" fill="#000090"/>
<circle cx="643" cy="340.6" r="3.7" fill="#000090"/>
<circle cx="492.2" cy="91.5" r="3.5" fill="#fff" stroke="#000090" stroke-width="0.9"/>
<circle cx="504.5" cy="93.2" r="3.5" fill="#fff" stroke="#000090" stroke-width="0.9"/>
<circle cx="536.5" cy="144.5" r="3.5" fill="#fff" stroke="#000090" stroke-width="0.9"/>
<circle cx="577.4" cy="197.3" r="3.5" fill="#fff" stroke="#000090" stroke-width="0.9"/>
<circle cx="593.2" cy="240.8" r="3.5" fill="#fff" stroke="#000090" stroke-width="0.9"/>
<circle cx="618.2" cy="315.2" r="3.5" fill="#fff" stroke="#000090" stroke-width="0.9"/>
<circle cx="508.2" cy="361.8" r="4.2" fill="#000090"/>
<circle cx="508.2" cy="376.4" r="3.9" fill="#fff" stroke="#000090" stroke-width="1"/>
<line x1="499.50" y1="398.30" x2="519.80" y2="398.30" stroke="#f020f0" stroke-width="1.2"/>
<line x1="499.50" y1="406.40" x2="519.80" y2="406.40" stroke="#f00a0a" stroke-width="1.2"/>
<text x="522.82" y="364.79" font-size="11.6" fill="#2a2a2a" textLength="57.68" lengthAdjust="spacingAndGlyphs">compression</text>
<text x="522.81" y="378.59" font-size="11.6" fill="#2a2a2a" textLength="70.0" lengthAdjust="spacingAndGlyphs">decompression</text>
<text x="522.78" y="406.19" font-size="11.6" fill="#2a2a2a" textLength="74.37" lengthAdjust="spacingAndGlyphs">calculated data</text>
<text x="657.12" y="309.69" font-size="14.17" fill="#2a2a2a" textLength="8.96" lengthAdjust="spacingAndGlyphs">A</text>
<text x="666.63" y="312.29" font-size="8.8" fill="#2a2a2a" textLength="6.8" lengthAdjust="spacingAndGlyphs">g</text>
<text x="653.34" y="347.69" font-size="13.59" fill="#2a2a2a" textLength="7.39" lengthAdjust="spacingAndGlyphs">B</text>
<text x="662.01" y="350.39" font-size="7.91" fill="#2a2a2a" textLength="10.98" lengthAdjust="spacingAndGlyphs">1g</text>
<defs>
<radialGradient id="gB" cx="0.62" cy="0.38" r="0.75"><stop offset="0" stop-color="#cfcca4"/><stop offset="0.35" stop-color="#96925f"/><stop offset="1" stop-color="#66623a"/></radialGradient>
<radialGradient id="gN" cx="0.65" cy="0.35" r="0.75"><stop offset="0" stop-color="#6a6aff"/><stop offset="0.35" stop-color="#1515e0"/><stop offset="1" stop-color="#000090"/></radialGradient>
<radialGradient id="gN2" cx="0.65" cy="0.35" r="0.75"><stop offset="0" stop-color="#8080ff"/><stop offset="0.35" stop-color="#3535d0"/><stop offset="1" stop-color="#15158a"/></radialGradient>
<radialGradient id="gH" cx="0.6" cy="0.4" r="0.7"><stop offset="0" stop-color="#ffffff"/><stop offset="0.5" stop-color="#c8ecf2"/><stop offset="1" stop-color="#80b8c0"/></radialGradient>
</defs>
<line x1="634.40" y1="170.80" x2="595.20" y2="152.90" stroke="#f5d090" stroke-width="1.1"/>
<line x1="634.40" y1="170.80" x2="644.80" y2="188.60" stroke="#f5d090" stroke-width="1.1"/>
<line x1="634.40" y1="170.80" x2="629.90" y2="204.40" stroke="#f5d090" stroke-width="1.1"/>
<line x1="634.40" y1="170.80" x2="675.60" y2="138.70" stroke="#f5d090" stroke-width="1.1"/>
<line x1="675.60" y1="138.70" x2="682.50" y2="110.40" stroke="#f5d090" stroke-width="1.1"/>
<line x1="675.60" y1="138.70" x2="669.80" y2="125.00" stroke="#f5d090" stroke-width="1.1"/>
<line x1="595.5" y1="148" x2="605.5" y2="112" stroke="#e03030" stroke-width="1" stroke-dasharray="2.5,2.5"/>
<line x1="691.5" y1="76" x2="682.5" y2="106" stroke="#e03030" stroke-width="1" stroke-dasharray="2.5,2.5"/>
<line x1="654.80" y1="47.00" x2="658.80" y2="14.00" stroke="#f0a010" stroke-width="3.8"/>
<line x1="654.80" y1="47.00" x2="643.60" y2="30.30" stroke="#f0a010" stroke-width="3.8"/>
<line x1="654.80" y1="47.00" x2="694.50" y2="67.50" stroke="#f0a010" stroke-width="3.8"/>
<line x1="654.80" y1="47.00" x2="613.80" y2="79.50" stroke="#f0a010" stroke-width="3.8"/>
<line x1="613.80" y1="79.50" x2="618.10" y2="94.70" stroke="#f0a010" stroke-width="3.6"/>
<line x1="613.80" y1="79.50" x2="606.30" y2="108.00" stroke="#f0a010" stroke-width="3.6"/>
<circle cx="654.8" cy="47" r="10.5" fill="url(#gB)"/>
<circle cx="613.8" cy="79.5" r="9.7" fill="url(#gN)"/>
<circle cx="634.4" cy="170.8" r="10.5" fill="url(#gB)"/>
<circle cx="675.6" cy="138.7" r="9.5" fill="url(#gN2)"/>
<circle cx="658.8" cy="14" r="4.6" fill="url(#gH)"/>
<circle cx="643.6" cy="30.3" r="4.6" fill="url(#gH)"/>
<circle cx="694.5" cy="67.5" r="4.6" fill="url(#gH)"/>
<circle cx="618.1" cy="94.7" r="4.6" fill="url(#gH)"/>
<circle cx="606.3" cy="108" r="4.6" fill="url(#gH)"/>
<circle cx="595.2" cy="152.9" r="4.6" fill="url(#gH)"/>
<circle cx="644.8" cy="188.6" r="4.6" fill="url(#gH)"/>
<circle cx="629.9" cy="204.4" r="4.6" fill="url(#gH)"/>
<circle cx="682.5" cy="110.4" r="4.6" fill="url(#gH)"/>
<circle cx="669.8" cy="125" r="4.6" fill="url(#gH)"/>
<polygon points="620.7,98.4 649.1,108.1 648.0,111.4 666,111.2 651.9,100.0 650.7,103.3 622.3,93.6" fill="#f01010"/>
<polygon points="608.6,112.6 622.9,120.2 621.4,123.0 634.3,124.3 626.1,114.2 624.6,117.0 610.4,109.4" fill="#f01010"/>
<polygon points="596.4,74.6 604.2,72.6 603.4,77.6" fill="#f01010"/>
<polygon points="647.5,26.8 661,25.8 651.2,32.6" fill="#f01010"/>
<polygon points="652.8,20.6 657.6,17.6 654.4,24.2" fill="#e01010"/>
<polygon points="689.6,71.4 696.6,72.2 691.6,79.0" fill="#e81010"/>
<text x="688.41" y="114.49" font-size="9.22" font-weight="bold" fill="#111" textLength="7.87" lengthAdjust="spacingAndGlyphs">H</text>
<text x="684.96" y="142.99" font-size="12.71" font-weight="bold" fill="#111" textLength="11.68" lengthAdjust="spacingAndGlyphs">N</text>
<text x="646.53" y="176.39" font-size="14.6" font-weight="bold" fill="#111" textLength="8.76" lengthAdjust="spacingAndGlyphs">B</text>
</svg></body></html>
